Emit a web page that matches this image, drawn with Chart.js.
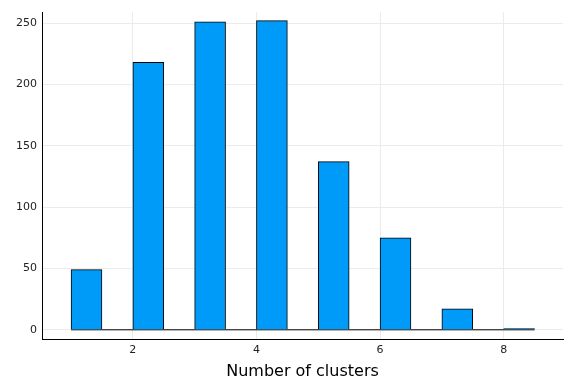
<!DOCTYPE html>
<html>
<head>
<meta charset="utf-8">
<script src="https://cdn.jsdelivr.net/npm/chart.js@4/dist/chart.umd.min.js"></script>
<style>
  html, body { margin: 0; padding: 0; background: #fff; }
  #wrap { width: 576px; height: 384px; }
</style>
</head>
<body>
<div id="wrap"><canvas id="histChart" width="576" height="384"></canvas></div>
<script>
// histogram bins (left edges, width 0.5) and counts
const binStarts = [1, 1.5, 2, 2.5, 3, 3.5, 4, 4.5, 5, 5.5, 6, 6.5, 7, 7.5, 8];
const binWidth = 0.5;
const counts = [49, 0, 218, 0, 251, 0, 252, 0, 137, 0, 75, 0, 17, 0, 1];
const xTicks = [2, 4, 6, 8];
const yTicks = [0, 50, 100, 150, 200, 250];

const barPoints = binStarts.map((s, i) => ({ x: s + binWidth / 2, y: counts[i] }));
const baseline = [
  { x: binStarts[0], y: 0 },
  { x: binStarts[binStarts.length - 1] + binWidth, y: 0 }
];

Chart.defaults.font.family = "'DejaVu Sans', sans-serif";
Chart.defaults.color = "#222";

new Chart(document.getElementById("histChart"), {
  data: {
    datasets: [
      {
        type: "bar",
        data: barPoints,
        backgroundColor: "#009af9",
        borderColor: "#000",
        borderWidth: 1,
        categoryPercentage: 1,
        barPercentage: 1,
        order: 1
      },
      {
        type: "line",
        data: baseline,
        borderColor: "#000",
        borderWidth: 1,
        pointRadius: 0,
        order: 2
      }
    ]
  },
  options: {
    responsive: false,
    animation: false,
    layout: { padding: { top: 12, right: 13, left: 0, bottom: 0 } },
    plugins: { legend: { display: false }, tooltip: { enabled: false } },
    scales: {
      x: {
        type: "linear",
        offset: false,
        min: 0.53,
        max: 8.96,
        afterBuildTicks: scale => { scale.ticks = xTicks.map(v => ({ value: v })); },
        afterFit: scale => { scale.height = 45; },
        grid: { color: "#ebebeb", drawTicks: false, offset: false },
        border: { display: true, color: "#000", width: 1 },
        ticks: { padding: 5, font: { size: 11 }, maxRotation: 0 },
        title: { display: true, text: "Number of clusters", font: { size: 16 }, color: "#000", padding: { top: 4, bottom: 3 } }
      },
      y: {
        type: "linear",
        min: -7.5,
        max: 259,
        afterBuildTicks: scale => { scale.ticks = yTicks.map(v => ({ value: v })); },
        afterFit: scale => { scale.width = 42; },
        grid: { color: "#ebebeb", drawTicks: false },
        border: { display: true, color: "#000", width: 1 },
        ticks: { padding: 5, font: { size: 11 } }
      }
    }
  }
});
</script>
</body>
</html>
